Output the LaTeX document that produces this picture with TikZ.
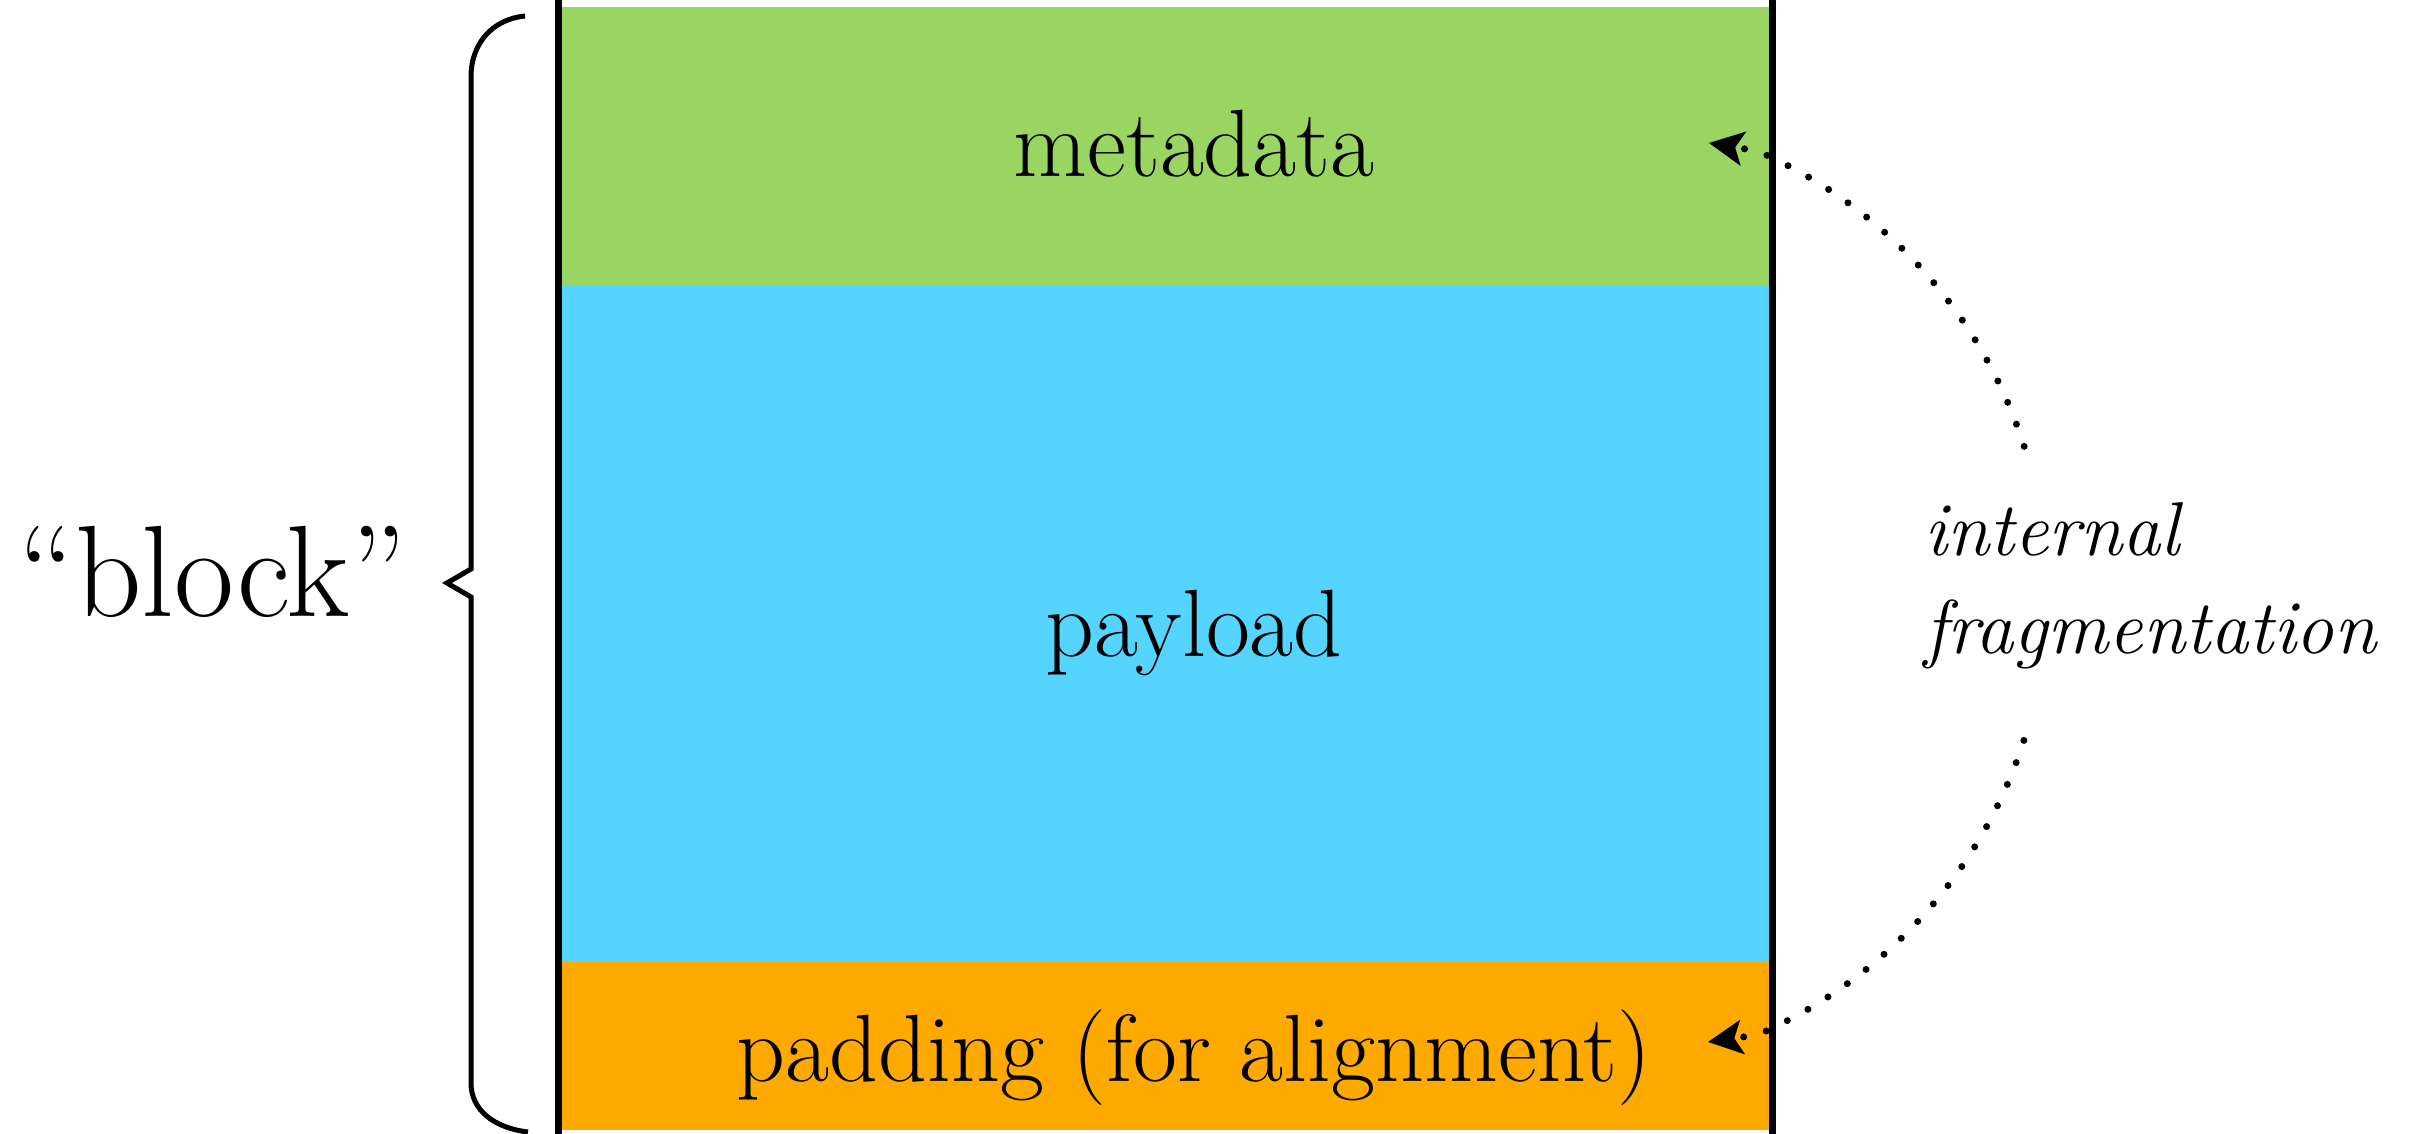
\documentclass[tikz,border=0pt]{standalone}
\usetikzlibrary{arrows.meta,calc}
\definecolor{metagreen}{HTML}{9AD562}
\definecolor{payblue}{HTML}{55D5FD}
\definecolor{padorange}{HTML}{FEA900}
\tikzset{
  label/.style={inner sep=0pt, anchor=base, font=\fontsize{27.2}{32}\selectfont},
  wall/.style={line width=0.07cm},
  brace/.style={line width=0.05cm, line join=miter},
  dotline/.style={line width=0.07cm, line cap=round, dash pattern=on 0pt off 0.235cm, dash phase=0.14cm},
  backarrow/.style={>={Stealth[length=0.35cm, width=0.35cm, inset=0.085cm, line width=0pt]}, <-}
}
\begin{document}
\begin{tikzpicture}[x=0.01cm, y=0.01cm]
\useasboundingbox (0,0) rectangle (2424,1134);
% regions
\fill[metagreen] (558,849) rectangle (1772,1127);
\fill[payblue] (558,172) rectangle (1772,849);
\fill[padorange] (558,4) rectangle (1772,172);
\draw[wall] (558.5,0) -- (558.5,1134);
\draw[wall] (1772,0) -- (1772,1134);
% labels
\node[label] (meta) at (1194,957) {metadata};
\node[label] (pay) at (1194,477) {payload};
\node[label] (pad) at (1194,52) {padding (for alignment)};
% brace
\draw[brace] (525,1118) .. controls (494,1115) and (471,1092) .. (471,1057)
  -- (471,565) -- (447,551) -- (471,537) -- (471,51)
  .. controls (471,24) and (494,6) .. (528,2);
\node[inner sep=0pt, anchor=base east, font=\fontsize{37}{44}\selectfont] (blk) at (407,517) {“block”};
% internal fragmentation
\coordinate (ctr) at (1565,541);
\node[inner sep=0pt, anchor=west, align=left, font=\fontsize{21.7}{28}\selectfont\itshape] (frag) at (1924,548) {internal\\fragmentation};
\coordinate (topTip) at (1709,991);
\coordinate (botTip) at (1708,92);
\draw[dotline, backarrow] (topTip) -- ($(ctr)+(66.5:482)$) arc[start angle=66.5, end angle=15.7, radius=482];
\draw[dotline, backarrow] (botTip) -- ($(ctr)+(-66.5:482)$) arc[start angle=-66.5, end angle=-15.7, radius=482];
\end{tikzpicture}
\end{document}
